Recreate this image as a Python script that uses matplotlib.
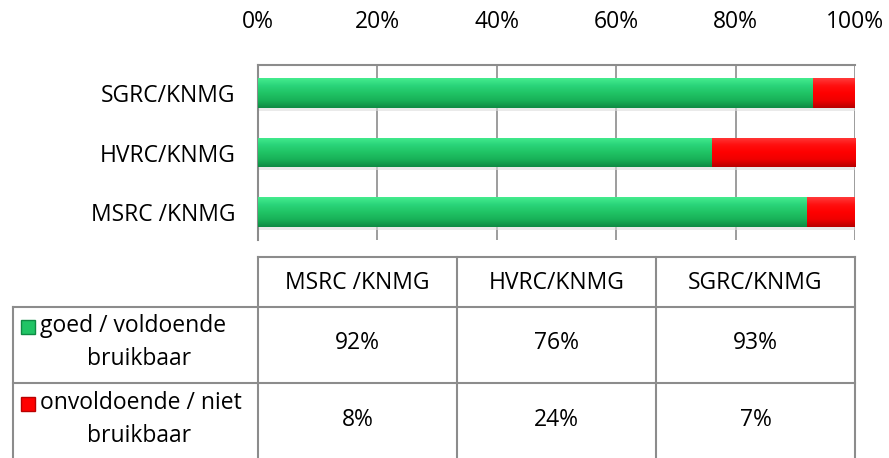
import numpy as np
import matplotlib
matplotlib.use("Agg")
from matplotlib import pyplot as plt
from matplotlib.colors import LinearSegmentedColormap

# data
categories = ["MSRC /KNMG", "HVRC/KNMG", "SGRC/KNMG"]
goed = [92, 76, 93]
onvoldoende = [8, 24, 7]
series_labels = ["goed / voldoende\nbruikbaar", "onvoldoende / niet\nbruikbaar"]
ticks = [0, 20, 40, 60, 80, 100]

plt.rcParams['font.family'] = ['Open Sans', 'DejaVu Sans']
FS = 16.5
W, H = 889, 458

fig = plt.figure(figsize=(W / 100, H / 100), dpi=100)

# plot area in pixels
x0, x1 = 258, 855
y0, y1 = 65, 240
ax = fig.add_axes([x0 / W, 1 - y1 / H, (x1 - x0) / W, (y1 - y0) / H])

green_cm = LinearSegmentedColormap.from_list("g", ["#44ec8e", "#2ad47a", "#20c465", "#18b158", "#0e8a43"])
red_cm = LinearSegmentedColormap.from_list("r", ["#ff3a3a", "#ff1010", "#ff0000", "#f00000", "#b80000"])
grad = np.linspace(0, 1, 64).reshape(-1, 1)

ypos = np.arange(len(categories))
h = 0.5
# shadows
ax.barh(ypos - 0.05, 100, height=h, color="#dcdcdc", alpha=0.6, zorder=1)
b1 = ax.barh(ypos, goed, height=h, color="#20c465", edgecolor="none", zorder=2)
b2 = ax.barh(ypos, onvoldoende, left=goed, height=h, color="#ff0000", edgecolor="none", zorder=2)
for bars, cm in ((b1, green_cm), (b2, red_cm)):
    for p in bars:
        x, y = p.get_x(), p.get_y()
        im = ax.imshow(grad, cmap=cm, aspect="auto", origin="upper",
                       extent=[x, x + p.get_width(), y, y + p.get_height()],
                       zorder=3, interpolation="bicubic")
        im.set_clip_path(p)

ax.set_xlim(0, 100)
ax.set_ylim(-0.47, 2.47)
ax.set_xticks(ticks)
ax.set_xticklabels([f"{t}%" for t in ticks])
ax.xaxis.tick_top()
ax.set_yticks(ypos)
ax.set_yticklabels(categories)
ax.tick_params(axis="x", length=0, pad=22, labelsize=FS)
ax.tick_params(axis="y", length=0, pad=16, labelsize=FS)
ax.grid(axis="x", color="#8c8c8c", linewidth=1.2, zorder=0)
ax.set_axisbelow(True)
for s in ["bottom", "right"]:
    ax.spines[s].set_visible(False)
for s in ["top", "left"]:
    ax.spines[s].set_color("#8c8c8c")
    ax.spines[s].set_linewidth(1.5)

# data table below
tx = fig.add_axes([0, 0, 1, 1], facecolor="none")
tx.set_xlim(0, W)
tx.set_ylim(H, 0)
tx.axis("off")
lc = "#8c8c8c"
lw = 1.5
col_w = (x1 - x0) / len(categories)
ty0, ty1, ty2 = 257, 307, 383
tx.plot([x0, x1], [ty0, ty0], color=lc, lw=lw)
tx.plot([13, x1], [ty1, ty1], color=lc, lw=lw)
tx.plot([13, x1], [ty2, ty2], color=lc, lw=lw)
tx.plot([13, 13], [ty1, H], color=lc, lw=lw)
for i in range(len(categories) + 1):
    xx = x0 + i * col_w
    tx.plot([xx, xx], [ty0, H], color=lc, lw=lw)
for i, c in enumerate(categories):
    tx.text(x0 + (i + 0.5) * col_w, 283, c, ha="center", va="center", fontsize=FS)
rows_c = [343, 420]
for vals, yc in zip([goed, onvoldoende], rows_c):
    for i, v in enumerate(vals):
        tx.text(x0 + (i + 0.5) * col_w, yc, f"{v}%", ha="center", va="center", fontsize=FS)

sq_cols = [("#20c465", "#0e8a43"), ("#ff0000", "#b80000")]
line1_y = [326, 403]
for lab, yc, (fc, ec) in zip(series_labels, line1_y, sq_cols):
    l1, l2 = lab.split("\n")
    tx.add_patch(plt.Rectangle((21, yc - 6), 14, 14, facecolor=fc, edgecolor=ec, lw=1))
    tx.text(40, yc, l1, ha="left", va="center", fontsize=FS)
    tx.text(139, yc + 33, l2, ha="center", va="center", fontsize=FS)

plt.savefig("out.png", dpi=100)
